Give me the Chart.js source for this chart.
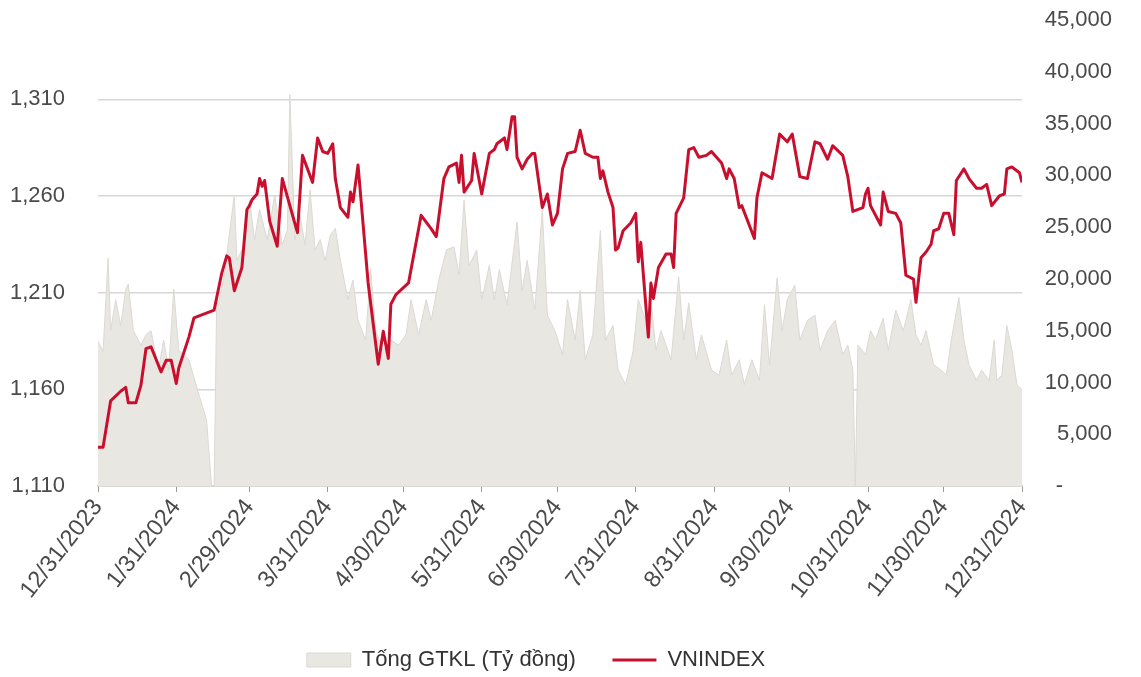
<!DOCTYPE html>
<html lang="vi">
<head>
<meta charset="UTF-8">
<title>VNINDEX và Tổng GTKL 2024</title>
<script src="https://cdn.jsdelivr.net/npm/chart.js@4.4.1/dist/chart.umd.min.js"></script>
<style>
  html, body { margin: 0; padding: 0; background: #fff; }
  .wrap { position: relative; width: 1141px; height: 677px; }
</style>
</head>
<body>
<div class="wrap"><canvas id="chart"></canvas></div>
<script>
// VNINDEX close
const vnDates = [
  '2023-12-31', '2024-01-02', '2024-01-05', '2024-01-09', '2024-01-11', '2024-01-12', '2024-01-15', '2024-01-17',
  '2024-01-19', '2024-01-21', '2024-01-25', '2024-01-27', '2024-01-29', '2024-01-31',
  '2024-02-01', '2024-02-05', '2024-02-07', '2024-02-15', '2024-02-18', '2024-02-20', '2024-02-21', '2024-02-23',
  '2024-02-26', '2024-02-28', '2024-02-29',
  '2024-03-01', '2024-03-03', '2024-03-04', '2024-03-05', '2024-03-06', '2024-03-08', '2024-03-11', '2024-03-13',
  '2024-03-19', '2024-03-21', '2024-03-25', '2024-03-27', '2024-03-29', '2024-03-31',
  '2024-04-02', '2024-04-03', '2024-04-05', '2024-04-08', '2024-04-09', '2024-04-10', '2024-04-12', '2024-04-16',
  '2024-04-20', '2024-04-22', '2024-04-24', '2024-04-25', '2024-04-27',
  '2024-05-02', '2024-05-07', '2024-05-11', '2024-05-13', '2024-05-16', '2024-05-18', '2024-05-21', '2024-05-22',
  '2024-05-23', '2024-05-24', '2024-05-27', '2024-05-28', '2024-05-31',
  '2024-06-03', '2024-06-05', '2024-06-06', '2024-06-09', '2024-06-10', '2024-06-12', '2024-06-13', '2024-06-14',
  '2024-06-16', '2024-06-18', '2024-06-20', '2024-06-21', '2024-06-24', '2024-06-26', '2024-06-28', '2024-06-30',
  '2024-07-02', '2024-07-04', '2024-07-07', '2024-07-09', '2024-07-11', '2024-07-14', '2024-07-16', '2024-07-17',
  '2024-07-18', '2024-07-20', '2024-07-22', '2024-07-23', '2024-07-24', '2024-07-26', '2024-07-29', '2024-07-31',
  '2024-08-01', '2024-08-02', '2024-08-05', '2024-08-06', '2024-08-07', '2024-08-09', '2024-08-12', '2024-08-14',
  '2024-08-15', '2024-08-16', '2024-08-19', '2024-08-21', '2024-08-23', '2024-08-25', '2024-08-28', '2024-08-30',
  '2024-09-03', '2024-09-05', '2024-09-06', '2024-09-08', '2024-09-10', '2024-09-11', '2024-09-16', '2024-09-17',
  '2024-09-19', '2024-09-23', '2024-09-26', '2024-09-29',
  '2024-10-01', '2024-10-04', '2024-10-07', '2024-10-10', '2024-10-12', '2024-10-15', '2024-10-17', '2024-10-21',
  '2024-10-23', '2024-10-25', '2024-10-29', '2024-10-30', '2024-10-31',
  '2024-11-01', '2024-11-05', '2024-11-06', '2024-11-08', '2024-11-11', '2024-11-13', '2024-11-15', '2024-11-18',
  '2024-11-19', '2024-11-21', '2024-11-23', '2024-11-25', '2024-11-26', '2024-11-28', '2024-11-30',
  '2024-12-02', '2024-12-04', '2024-12-05', '2024-12-08', '2024-12-10', '2024-12-13', '2024-12-15', '2024-12-17',
  '2024-12-19', '2024-12-22', '2024-12-24', '2024-12-25', '2024-12-27', '2024-12-30', '2024-12-31'
];
const vnIndex = [
  1130, 1130, 1154, 1159, 1161, 1153, 1153, 1162,
  1181, 1182, 1169, 1175, 1175, 1163,
  1171, 1187, 1197, 1201, 1220, 1229, 1228, 1211,
  1223, 1253, 1255,
  1258, 1261, 1269, 1265, 1268, 1247, 1234, 1269,
  1241, 1281, 1267, 1290, 1283, 1282,
  1287, 1269, 1254, 1249, 1262, 1257, 1276, 1215,
  1173, 1190, 1176, 1204, 1209,
  1215, 1250, 1243, 1239, 1269, 1275, 1277, 1267,
  1281, 1262, 1268, 1282, 1261,
  1282, 1284, 1287, 1290, 1284, 1301, 1301, 1280,
  1274, 1279, 1282, 1282, 1254, 1261, 1245, 1251,
  1274, 1282, 1283, 1294, 1282, 1280, 1280, 1269,
  1273, 1262, 1254, 1232, 1233, 1242, 1246, 1251,
  1226, 1236, 1187, 1215, 1207, 1223, 1230, 1230,
  1223, 1251, 1259, 1284, 1285, 1280, 1281, 1283,
  1277, 1269, 1274, 1269, 1254, 1255, 1238, 1259,
  1272, 1269, 1292, 1288,
  1292, 1270, 1269, 1288, 1287, 1279, 1286, 1281,
  1270, 1252, 1254, 1261, 1264,
  1255, 1245, 1262, 1252, 1251, 1246, 1219, 1217,
  1205, 1228, 1231, 1235, 1242, 1243, 1251,
  1251, 1240, 1268, 1274, 1269, 1264, 1264, 1266,
  1255, 1260, 1261, 1274, 1275, 1272, 1267
];

// Tổng GTKL (tỷ đồng)
const volDates = [
  '2023-12-31', '2024-01-02', '2024-01-04', '2024-01-05', '2024-01-07', '2024-01-09', '2024-01-11', '2024-01-12',
  '2024-01-14', '2024-01-17', '2024-01-19', '2024-01-21', '2024-01-24', '2024-01-26', '2024-01-28', '2024-01-30',
  '2024-02-01', '2024-02-05', '2024-02-09', '2024-02-12', '2024-02-14', '2024-02-15', '2024-02-16', '2024-02-17',
  '2024-02-19', '2024-02-23', '2024-02-24', '2024-02-27', '2024-02-29',
  '2024-03-02', '2024-03-04', '2024-03-07', '2024-03-10', '2024-03-13', '2024-03-15', '2024-03-16', '2024-03-18',
  '2024-03-20', '2024-03-22', '2024-03-24', '2024-03-26', '2024-03-28', '2024-03-30',
  '2024-04-01', '2024-04-03', '2024-04-05', '2024-04-08', '2024-04-10', '2024-04-12', '2024-04-15', '2024-04-17',
  '2024-04-19', '2024-04-22', '2024-04-25', '2024-04-28',
  '2024-05-01', '2024-05-03', '2024-05-06', '2024-05-09', '2024-05-11', '2024-05-14', '2024-05-17', '2024-05-20',
  '2024-05-22', '2024-05-24', '2024-05-26', '2024-05-29', '2024-05-31',
  '2024-06-03', '2024-06-05', '2024-06-07', '2024-06-10', '2024-06-14', '2024-06-16', '2024-06-18', '2024-06-21',
  '2024-06-24', '2024-06-26', '2024-06-29',
  '2024-07-02', '2024-07-04', '2024-07-07', '2024-07-09', '2024-07-11', '2024-07-14', '2024-07-17', '2024-07-19',
  '2024-07-22', '2024-07-24', '2024-07-27', '2024-07-30',
  '2024-08-01', '2024-08-04', '2024-08-06', '2024-08-08', '2024-08-10', '2024-08-14', '2024-08-17', '2024-08-19',
  '2024-08-21', '2024-08-24', '2024-08-26', '2024-08-30',
  '2024-09-02', '2024-09-05', '2024-09-07', '2024-09-10', '2024-09-12', '2024-09-15', '2024-09-18', '2024-09-20',
  '2024-09-22', '2024-09-25', '2024-09-27', '2024-09-29',
  '2024-10-02', '2024-10-04', '2024-10-07', '2024-10-10', '2024-10-12', '2024-10-15', '2024-10-18', '2024-10-21',
  '2024-10-23', '2024-10-25', '2024-10-26', '2024-10-27', '2024-10-30',
  '2024-11-01', '2024-11-03', '2024-11-06', '2024-11-08', '2024-11-11', '2024-11-14', '2024-11-17', '2024-11-19',
  '2024-11-21', '2024-11-23', '2024-11-26', '2024-11-29',
  '2024-12-01', '2024-12-03', '2024-12-06', '2024-12-08', '2024-12-10', '2024-12-13', '2024-12-15', '2024-12-18',
  '2024-12-20', '2024-12-21', '2024-12-23', '2024-12-25', '2024-12-27', '2024-12-29', '2024-12-31'
];
const volValues = [
  14000, 13000, 22000, 15000, 18000, 15500, 19000, 19500,
  15000, 13600, 14600, 15000, 11200, 14100, 11200, 19000,
  13100, 12200, 8800, 6400, 0, 0, 17500, 18000,
  20400, 28100, 21800, 23300, 27600,
  23800, 26700, 23800, 28100, 23300, 24700, 37800, 23800,
  26200, 23300, 28600, 22800, 23800, 21800,
  24200, 24900, 21800, 18000, 19900, 16000, 14100, 20900,
  15000, 13100, 14100, 13600,
  14600, 18000, 14600, 18000, 16000, 19900, 22800, 23100,
  20400, 27600, 21300, 22800, 18000,
  21300, 18000, 20900, 17500, 25500, 18900, 21800, 17000,
  26700, 16500, 15000,
  12700, 18000, 14100, 18900, 12200, 14600, 24700, 14100,
  15500, 11200, 9800, 13100,
  18000, 16000, 18000, 13100, 15000, 12200, 20200, 14100,
  17700, 12200, 14600, 11200,
  10700, 14100, 10700, 12200, 9800, 12200, 10200, 17500,
  11700, 20100, 15000, 18000,
  19400, 14100, 16000, 16500, 13100, 15000, 16000, 12700,
  13600, 11200, 0, 13600, 12700,
  15000, 14100, 16200, 13100, 17000, 15000, 18000, 14600,
  13600, 15000, 11700, 11200,
  10700, 14100, 18200, 14100, 11700, 10200, 11200, 10200,
  14100, 10200, 10700, 15500, 13100, 9800, 9300
];

// axis ticks
const monthEnds = [
  '2023-12-31', '2024-01-31', '2024-02-29', '2024-03-31', '2024-04-30', '2024-05-31', '2024-06-30',
  '2024-07-31', '2024-08-31', '2024-09-30', '2024-10-31', '2024-11-30', '2024-12-31'
];
const leftTicks = [1110, 1160, 1210, 1260, 1310];
const rightTicks = [0, 5000, 10000, 15000, 20000, 25000, 30000, 35000, 40000, 45000];

const origin = Date.UTC(2023, 11, 31);
function dayOf(s) {
  const [y, m, d] = s.split('-').map(Number);
  return (Date.UTC(y, m - 1, d) - origin) / 86400000;
}
function dateLabel(s) {
  const [y, m, d] = s.split('-').map(Number);
  return m + '/' + d + '/' + y;
}

const font = { family: "'Liberation Sans', Arial, sans-serif", size: 22 };

// nudge the legend left and down, like the original
const legendShift = {
  id: 'legendShift',
  afterLayout(chart) {
    const lg = chart.legend;
    if (!lg) return;
    lg.right -= 40;
    lg.top += 4;
    lg.bottom += 4;
  }
};

const ctx = document.getElementById('chart').getContext('2d');
new Chart(ctx, {
  type: 'line',
  data: {
    datasets: [
      {
        label: 'Tổng GTKL (Tỷ đồng)',
        data: volDates.map((d, i) => ({ x: dayOf(d), y: volValues[i] })),
        yAxisID: 'y1',
        fill: 'origin',
        backgroundColor: '#e9e7e2',
        borderColor: '#dcd9d4',
        borderWidth: 1,
        pointRadius: 0,
        pointStyle: 'rect',
        order: 2
      },
      {
        label: 'VNINDEX',
        data: vnDates.map((d, i) => ({ x: dayOf(d), y: vnIndex[i] })),
        yAxisID: 'y',
        borderColor: '#c8102e',
        backgroundColor: '#c8102e',
        borderWidth: 3,
        borderJoinStyle: 'round',
        pointRadius: 0,
        pointStyle: 'line',
        fill: false,
        order: 1
      }
    ]
  },
  plugins: [legendShift],
  options: {
    responsive: true,
    maintainAspectRatio: false,
    animation: false,
    layout: { padding: { top: 20, left: 0, right: 29, bottom: 0 } },
    plugins: {
      tooltip: { enabled: false },
      legend: {
        position: 'bottom',
        labels: {
          font: font,
          color: '#333',
          usePointStyle: true,
          pointStyleWidth: 44,
          boxHeight: 14,
          padding: 0,
          sort: (a, b) => a.datasetIndex - b.datasetIndex,
          generateLabels: chart => {
            const items = Chart.defaults.plugins.legend.labels.generateLabels(chart);
            // extra gap after the first entry
            items.forEach(it => { if (it.datasetIndex === 0) it.text = it.text + '      '; });
            return items;
          }
        }
      }
    },
    scales: {
      x: {
        type: 'linear',
        min: 0,
        max: 366,
        afterBuildTicks: scale => { scale.ticks = monthEnds.map(s => ({ value: dayOf(s) })); },
        afterFit: scale => { scale.height = 159; },
        ticks: {
          autoSkip: false,
          minRotation: 52,
          maxRotation: 52,
          padding: 2,
          font: { family: font.family, size: 23.5 },
          color: '#4a4a4a',
          callback: (v, i) => dateLabel(monthEnds[i])
        },
        grid: { display: true, drawOnChartArea: false, drawTicks: true, tickLength: 6, color: '#9a9a9a' },
        border: { display: true, color: '#c9c9c9', width: 1.5 }
      },
      y: {
        position: 'left',
        min: 1110,
        max: 1351,
        afterBuildTicks: scale => { scale.ticks = leftTicks.map(v => ({ value: v })); },
        afterFit: scale => { scale.width = 98; },
        ticks: {
          font: font,
          color: '#4a4a4a',
          padding: 0,
          callback: v => v.toLocaleString('en-US')
        },
        // invisible tick marks keep the labels away from the plot
        grid: { color: '#d6d6d6', lineWidth: 1.5, drawTicks: true, tickLength: 33, tickColor: 'rgba(0,0,0,0)' },
        border: { display: false }
      },
      y1: {
        position: 'right',
        min: 0,
        max: 45000,
        afterBuildTicks: scale => { scale.ticks = rightTicks.map(v => ({ value: v })); },
        afterFit: scale => { scale.width = 90; },
        ticks: {
          font: font,
          color: '#4a4a4a',
          padding: 0,
          crossAlign: 'far',
          callback: v => v === 0 ? '-' + ' '.repeat(8) : v.toLocaleString('en-US')
        },
        grid: { display: false, drawTicks: false },
        border: { display: false }
      }
    }
  }
});
</script>
</body>
</html>
